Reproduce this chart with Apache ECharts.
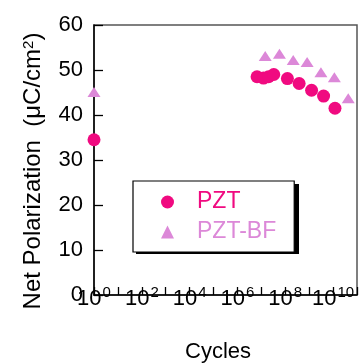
<!DOCTYPE html>
<html>
<head>
<meta charset="utf-8">
<title>Net Polarization</title>
<script src="https://cdn.jsdelivr.net/npm/echarts@6/dist/echarts.min.js"></script>
<style>
  html, body { margin: 0; padding: 0; background: #fff; }
  #main { width: 360px; height: 363px; }
</style>
</head>
<body>
<div id="main"></div>
<script type="text/javascript">
// --- data ---
var pztCycles = [1, 6.6e6, 1.23e7, 2.0e7, 3.3e7, 1.23e8, 3.8e8, 1.26e9, 4.0e9, 1.2e10];
var pztValues = [34.5, 48.5, 48.2, 48.5, 49.0, 48.1, 47.0, 45.5, 44.2, 41.5];
var bfCycles = [1, 1.45e7, 5.7e7, 2.15e8, 8.2e8, 3.1e9, 1.13e10, 4.3e10];
var bfValues = [45.1, 53.1, 53.6, 52.2, 51.8, 49.5, 48.4, 43.7];
var xDecades = [0, 11];   // 10^0 .. 10^11
var yTicks = [0, 10, 20, 30, 40, 50, 60];

var pink = '#f00a80';
var orchid = '#dc88d8';
var font = 'Liberation Sans';

// x axis is drawn in decades (log10 of cycles)
function pairs(xs, ys) {
    var out = [];
    for (var i = 0; i < xs.length; i++) out.push([Math.log(xs[i]) / Math.LN10, ys[i]]);
    return out;
}

// superscript: raised by bottom padding
var supRich = {
    b: { fontSize: 22, fontFamily: font, color: '#000' },
    s: { fontSize: 15, fontFamily: font, color: '#000', padding: [0, 0, 12, 1] }
};

var myChart = echarts.init(document.getElementById('main'));

myChart.setOption({
    animation: false,
    grid: { left: 94, top: 25, right: -1, bottom: 68, show: true, borderColor: '#555', borderWidth: 1.5 },
    graphic: [{
        // legend shadow block
        type: 'rect', left: 136, top: 184,
        shape: { width: 163, height: 70 },
        style: { fill: '#000' }
    }, {
        // y axis title
        type: 'text', x: 33, y: 171, rotation: Math.PI / 2,
        style: {
            text: '{b|Net Polarization  (\u03bcC/cm}{s|2}{b|)}',
            align: 'center', verticalAlign: 'middle',
            rich: {
                b: { fontSize: 24, fontFamily: font, fill: '#000', verticalAlign: 'bottom' },
                s: { fontSize: 15, fontFamily: font, fill: '#000', verticalAlign: 'top' }
            }
        }
    }, {
        // x axis title
        type: 'text', x: 218, y: 352,
        style: {
            text: 'Cycles', align: 'center', verticalAlign: 'middle',
            fontSize: 22, fontFamily: font, fill: '#000'
        }
    }],
    legend: {
        orient: 'vertical',
        left: 133, top: 181,
        padding: [8, 18, 7, 28],
        itemWidth: 13, itemHeight: 13,
        itemGap: 4,
        backgroundColor: '#fff',
        borderColor: '#000', borderWidth: 1.2, borderRadius: 0,
        textStyle: { fontSize: 23, fontFamily: font, padding: [0, 0, 0, 18], lineHeight: 26 },
        data: [
            { name: 'PZT', textStyle: { color: pink } },
            { name: 'PZT-BF', textStyle: { color: orchid } }
        ]
    },
    xAxis: {
        type: 'value', min: xDecades[0], max: xDecades[1], interval: 1,
        axisLine: { show: true, lineStyle: { color: '#000', width: 1.5 } },
        axisTick: { show: true, inside: true, length: 8, lineStyle: { color: '#000', width: 1.3 } },
        splitLine: { show: false },
        axisLabel: {
            margin: -10,
            rich: supRich,
            formatter: function (v) {
                if (v % 2 !== 0) return '';
                return '{b|10}{s|' + v + '}';
            }
        }
    },
    yAxis: {
        type: 'value', min: yTicks[0], max: yTicks[yTicks.length - 1], interval: 10,
        axisLine: { show: true, lineStyle: { color: '#000', width: 1.5 } },
        axisTick: { show: true, inside: true, length: 9, lineStyle: { color: '#000', width: 1.3 } },
        splitLine: { show: false },
        axisLabel: { fontSize: 22, fontFamily: font, color: '#000', margin: 11 }
    },
    series: [{
        name: 'PZT', type: 'scatter',
        symbol: 'circle', symbolSize: 13,
        itemStyle: { color: pink, opacity: 1 },
        data: pairs(pztCycles, pztValues)
    }, {
        name: 'PZT-BF', type: 'scatter',
        symbol: 'triangle', symbolSize: [13, 10],
        itemStyle: { color: orchid, opacity: 1 },
        data: pairs(bfCycles, bfValues)
    }]
});
</script>
</body>
</html>
